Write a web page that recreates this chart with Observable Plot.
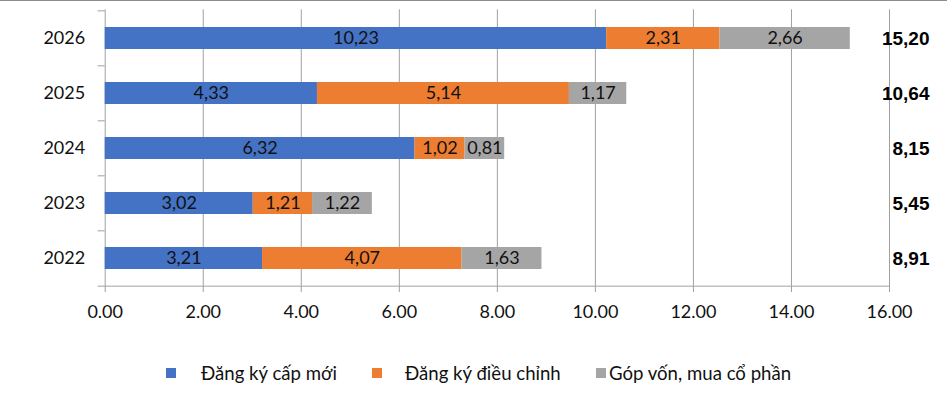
<!DOCTYPE html>
<html><head><meta charset="utf-8">
<script src="https://cdn.jsdelivr.net/npm/d3@7"></script>
<script src="https://cdn.jsdelivr.net/npm/@observablehq/plot@0.6"></script>
<style>
body{margin:0;background:#fff;width:947px;height:396px;overflow:hidden;position:relative;font-family:Lato,sans-serif}
#chart{position:absolute;left:0;top:0}
#topline{position:absolute;left:0;top:0;width:947px;height:1px;background:#8c8c8c}
#legend{position:absolute;left:0;top:362px;width:947px;height:22px}
.item{position:absolute;top:0;display:flex;align-items:center;height:22px;font-size:18.6px;color:#111;white-space:nowrap}
.sw{width:10px;height:10px;display:inline-block;flex:none}
</style></head><body>
<div id="chart"></div><div id="legend"></div><div id="topline"></div>
<script>
// ---- data ----
const years = ["2026", "2025", "2024", "2023", "2022"];
const seriesNames = ["Đăng ký cấp mới", "Đăng ký điều chỉnh", "Góp vốn, mua cổ phần"];
const capMoi = [10.23, 4.33, 6.32, 3.02, 3.21];
const dieuChinh = [2.31, 5.14, 1.02, 1.21, 4.07];
const gopVon = [2.66, 1.17, 0.81, 1.22, 1.63];
const totals = [15.20, 10.64, 8.15, 5.45, 8.91];
const xTicks = [0, 2, 4, 6, 8, 10, 12, 14, 16];
const colors = ["#4472C4", "#ED7D31", "#A5A5A5"];

// ---- tables for the library ----
const seriesValues = [capMoi, dieuChinh, gopVon];
const rows = [];
seriesNames.forEach((s, i) => years.forEach((y, j) => rows.push({year: y, series: s, value: seriesValues[i][j]})));
const totalRows = years.map((y, j) => ({year: y, total: totals[j]}));
const fmt = v => d3.format(".2f")(v).replace(".", ",");

// ---- layout ----
const W = 947, H = 340, mL = 104.7, mR = 58, mT = 9.3, mB = 54;
const step = (H - mB - mT) / years.length;
const gridColor = "#a0a0a0";

const chart = Plot.plot({
  width: W, height: H,
  marginLeft: mL, marginRight: mR, marginTop: mT, marginBottom: mB,
  style: {fontFamily: "Lato, sans-serif", fontSize: "18px", color: "#111", background: "#fff"},
  x: {domain: [0, 16]},
  y: {domain: years, paddingInner: 0.6, paddingOuter: 0.3},
  color: {domain: seriesNames, range: colors},
  marks: [
    Plot.ruleX(xTicks, {stroke: gridColor, strokeWidth: 1}),
    Plot.tickY(years, {y: d => d, dy: -step / 2, insetLeft: -7, insetRight: W - mR - mL, stroke: gridColor}),
    Plot.tickY([years[years.length - 1]], {y: d => d, dy: step / 2, insetLeft: -7, stroke: gridColor}),
    Plot.barX(rows, Plot.stackX({x: "value", y: "year", fill: "series"})),
    Plot.text(rows, Plot.stackX({x: "value", y: "year", z: "series", text: d => fmt(d.value), fill: "#111", fontSize: 18})),
    Plot.text(totalRows, {y: "year", text: d => fmt(d.total), frameAnchor: "right", textAnchor: "end", dx: 40,
      fontWeight: "bold", fontSize: 19, fontFamily: "Liberation Sans, Arial, sans-serif", fill: "#000"}),
    Plot.axisY({tickSize: 0, tickPadding: 20, fontSize: 18, fill: "#111", label: null}),
    Plot.axisX({ticks: xTicks, tickFormat: d3.format(".2f"), tickSize: 6, tickPadding: 13, stroke: gridColor, fill: "#111", fontSize: 18, label: null})
  ]
});
document.getElementById("chart").appendChild(chart);

// ---- legend ----
const swLeft = [166, 372, 596];
const gaps = [25, 23, 3];
const legend = document.getElementById("legend");
seriesNames.forEach((s, i) => {
  const it = document.createElement("div");
  it.className = "item";
  it.style.left = swLeft[i] + "px";
  const sw = document.createElement("span");
  sw.className = "sw";
  sw.style.background = colors[i];
  sw.style.marginRight = gaps[i] + "px";
  const tx = document.createElement("span");
  tx.textContent = s;
  it.appendChild(sw); it.appendChild(tx);
  legend.appendChild(it);
});
</script>
</body></html>
